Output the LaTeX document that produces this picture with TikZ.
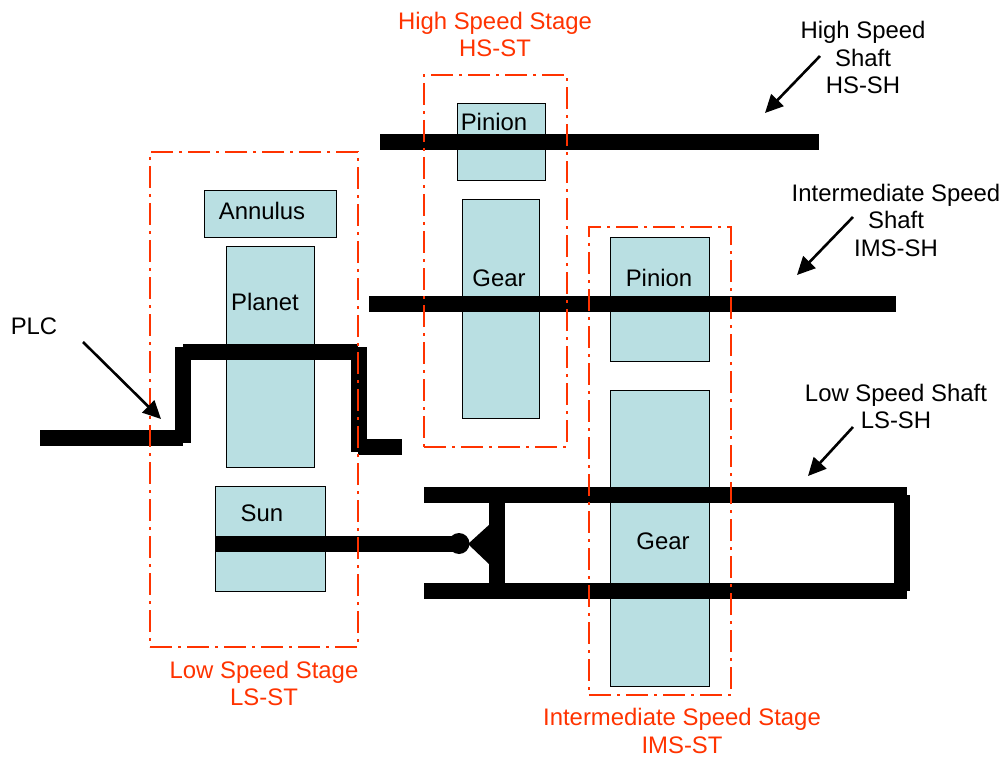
\documentclass[tikz,border=0pt]{standalone}
\usepackage{fontspec}
\setmainfont{Liberation Sans}
\usetikzlibrary{arrows.meta}
\definecolor{stagered}{HTML}{FF3300}
\definecolor{gearblue}{HTML}{B9DFE2}
\begin{document}
\begin{tikzpicture}[
    x=1pt, y=-1pt,
    every node/.style = { font=\fontsize{23.9}{27.5}\selectfont, align=center, inner sep=0pt },
    gearbox/.style = { draw, rectangle, fill=gearblue, line width=1.6pt },
    stagebox/.style = { draw=stagered, rectangle, line width=1.8pt, dash pattern=on 22pt off 6pt on 3pt off 6pt },
    stagetext/.style = { text=stagered },
    shaft/.style = { line width=16pt },
    pointer/.style = { line width=2.6pt, -{Triangle[length=18pt,width=17pt]} }
    ]
\useasboundingbox (0,0) rectangle (1005,757);
\node[gearbox, minimum width=132pt, minimum height=47pt] (ANN) at (270.5,214) {};
\node[gearbox, minimum width=88pt, minimum height=221pt] (PLN) at (270.5,357) {};
\node[gearbox, minimum width=110pt, minimum height=105pt] (SUN) at (270.5,539) {};
\node[gearbox, minimum width=88pt, minimum height=77pt] (HSP) at (501.5,142) {};
\node[gearbox, minimum width=77pt, minimum height=219pt] (HSG) at (501,309) {};
\node[gearbox, minimum width=99pt, minimum height=124pt] (IMSP) at (660,299.5) {};
\node[gearbox, minimum width=99pt, minimum height=296pt] (IMSG) at (660,538.5) {};
%
\node (ANNtext) at (262,211) {Annulus};
\node (PLNtext) at (265,302) {Planet};
\node (SUNtext) at (262,513) {Sun};
\node (HSPtext) at (494,122) {Pinion};
\node (HSGtext) at (499,278) {Gear};
\node (IMSPtext) at (659,278) {Pinion};
\node (IMSGtext) at (663,541) {Gear};
%
\coordinate (HSa) at (380,142);
\coordinate (HSb) at (819,142);
\coordinate (IMSa) at (369,304);
\coordinate (IMSb) at (896,304);
\coordinate (LSa) at (424,495);
\coordinate (LSb) at (907,495);
\coordinate (LSc) at (424,591);
\coordinate (LSd) at (907,591);
\coordinate (LSe) at (901.5,495);
\coordinate (LSf) at (901.5,591);
\coordinate (LSg) at (497,495);
\coordinate (LSh) at (497,591);
\coordinate (PCa) at (40,438);
\coordinate (PCb) at (183,438);
\coordinate (PCc) at (183,347);
\coordinate (PCd) at (183,443);
\coordinate (PCe) at (183,352);
\coordinate (PCf) at (358,352);
\coordinate (PCg) at (358.5,347);
\coordinate (PCh) at (358.5,452);
\coordinate (PCi) at (358,447);
\coordinate (PCj) at (402,447);
\coordinate (SUNa) at (215,543.5);
\coordinate (TRa) at (468,544);
\coordinate (TRb) at (490,524);
\coordinate (TRc) at (490,565);
\node[circle, fill=black, minimum size=21pt] (JNT) at (459,543.5) {};
%
\foreach \Source/\Target in {%
        HSa/HSb,
        IMSa/IMSb,
        LSa/LSb,
        LSc/LSd,
        LSe/LSf,
        LSg/LSh,
        PCa/PCb,
        PCc/PCd,
        PCe/PCf,
        PCg/PCh,
        PCi/PCj,
        SUNa/JNT.center%
    }
\draw[shaft] (\Source) to (\Target);
\fill (TRa) -- (TRb) -- (TRc) -- cycle;
%
\node[stagebox, minimum width=208pt, minimum height=495pt] (LSST) at (254,399.5) {};
\node[stagebox, minimum width=143pt, minimum height=372pt] (HSST) at (495.5,261) {};
\node[stagebox, minimum width=142pt, minimum height=468pt] (IMSST) at (660,461) {};
%
\node[stagetext] (HSSTtext) at (495,34.5) {High Speed Stage\\HS-ST};
\node[stagetext] (LSSTtext) at (264,683.5) {Low Speed Stage\\LS-ST};
\node[stagetext] (IMSSTtext) at (682,731) {Intermediate Speed Stage\\IMS-ST};
%
\node (HSSH) at (863,57.5) {High Speed\\Shaft\\HS-SH};
\node (IMSSH) at (896,220) {Intermediate Speed\\Shaft\\IMS-SH};
\node (LSSH) at (896,406.5) {Low Speed Shaft\\LS-SH};
\node (PLC) at (34,326) {PLC};
%
\coordinate (HSfrom) at (820,56);
\coordinate (HSto) at (765,113);
\coordinate (IMSfrom) at (853,217);
\coordinate (IMSto) at (797,275);
\coordinate (LSfrom) at (853,427);
\coordinate (LSto) at (808,476);
\coordinate (PLCfrom) at (83,342);
\coordinate (PLCto) at (161,419);
\foreach \Source/\Target in {%
        HSfrom/HSto,
        IMSfrom/IMSto,
        LSfrom/LSto,
        PLCfrom/PLCto%
    }
\draw[pointer] (\Source) to (\Target);
\end{tikzpicture}
\end{document}
